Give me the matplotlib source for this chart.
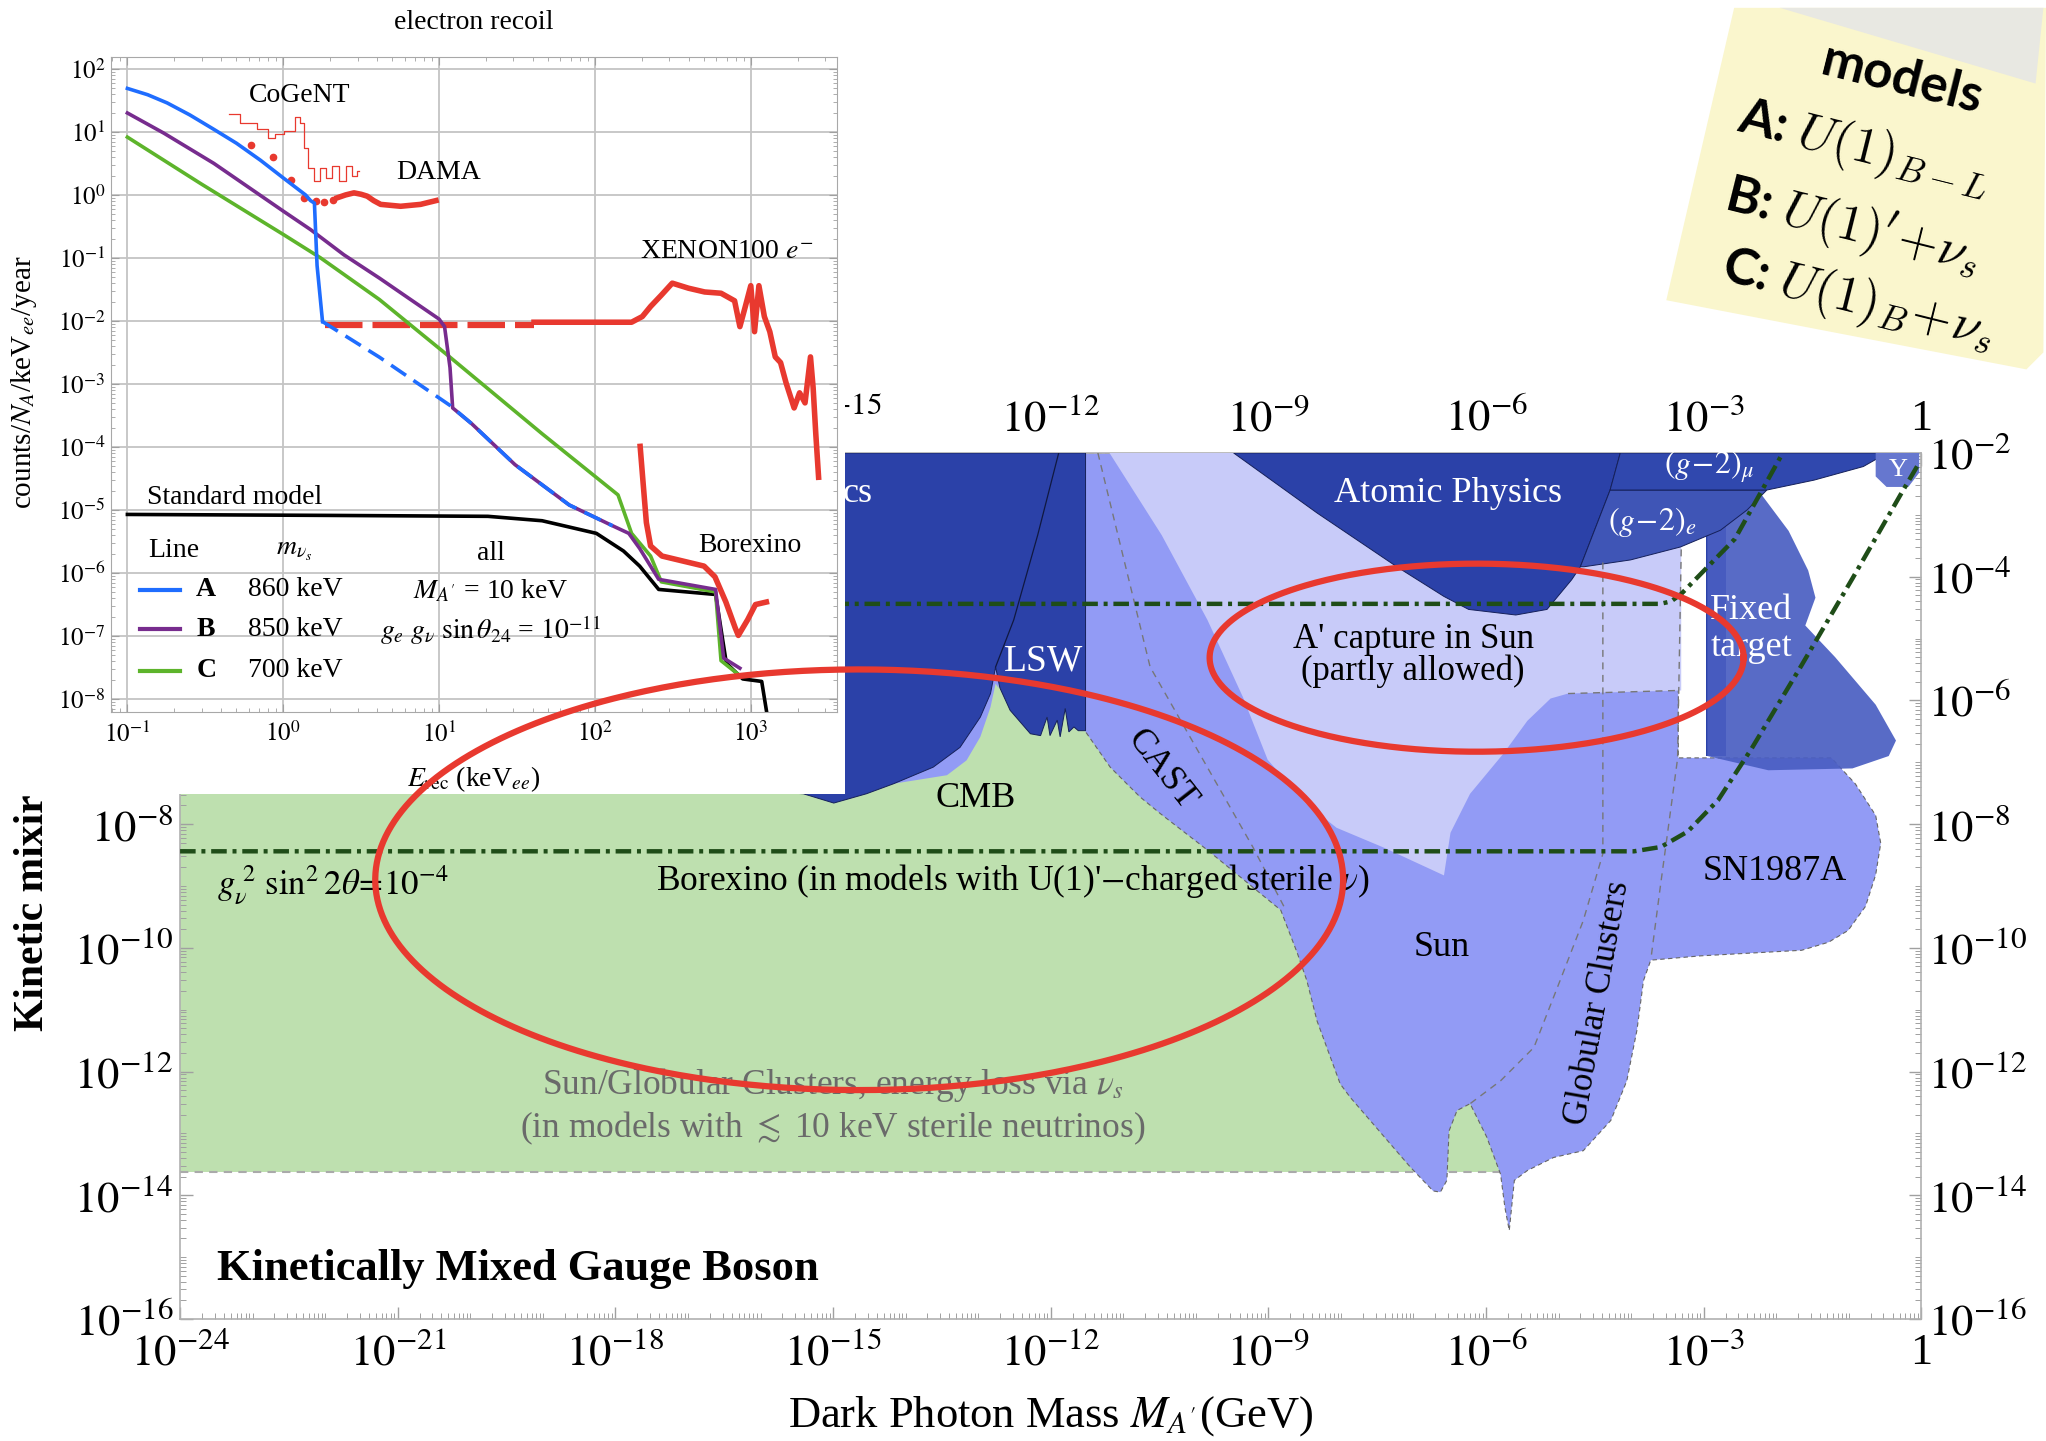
import numpy as np
import matplotlib
matplotlib.use("Agg")
import matplotlib.pyplot as plt
from matplotlib.patches import Polygon, Rectangle
from matplotlib.ticker import FixedLocator, FixedFormatter, LogLocator, NullFormatter

plt.rcParams["font.family"] = "serif"
plt.rcParams["font.serif"] = ["Liberation Serif", "DejaVu Serif"]
plt.rcParams["mathtext.fontset"] = "stix"

# ---------------- main panel: regions in (log10 M_A'/GeV, log10 chi) ----------------
green_lx = [-24.0, -5.81, -5.81, -24.0]
green_ly = [-13.63, -13.63, -2.0, -2.0]

# CAST + Sun + Globular Clusters + SN1987A
astro_lx = [-11.53, -11.53, -11.18, -10.95, -10.77, -10.49, -9.84, -8.83, -8.60, -8.47, -8.33,
            -8.01, -7.87, -7.04, -6.73, -6.63, -6.54, -6.51, -6.40, -6.22, -5.99, -5.80, -5.74,
            -5.68, -5.61, -5.43, -5.07, -4.66, -4.28, -4.06, -3.92, -3.83, -3.73, -3.04, -1.65,
            -1.28, -1.01, -0.77, -0.63, -0.56, -0.63, -0.91, -1.24, -3.35, -3.35]
astro_ly = [-2.00, -6.49, -7.08, -7.35, -7.56, -7.83, -8.42, -9.39, -10.09, -10.53, -11.18,
            -12.20, -12.42, -13.55, -13.93, -13.95, -13.76, -12.96, -12.63, -12.52, -13.06, -13.66,
            -14.20, -14.57, -13.76, -13.60, -13.39, -13.28, -12.79, -12.15, -11.33, -10.53, -10.20,
            -10.13, -10.04, -9.91, -9.72, -9.33, -8.82, -8.31, -7.86, -7.35, -6.93, -6.93, -2.00]

# A' capture in Sun (partly allowed)
capture_lx = [-11.19, -10.47, -9.84, -9.35, -9.01, -8.49, -8.06, -7.41, -6.58, -6.49, -6.22,
              -5.76, -5.43, -5.11, -4.87, -3.31, -3.31]
capture_ly = [-2.0, -3.33, -4.70, -5.95, -6.96, -7.66, -8.06, -8.38, -8.83, -8.14, -7.51,
              -6.86, -6.33, -5.97, -5.89, -5.84, -2.0]

# low mass bounds + LSW
lsw_lx = [-15.69, -15.69, -15.41, -14.99, -14.54, -14.17, -13.62, -13.25, -12.97, -12.83, -12.76,
          -12.70, -12.56, -12.28, -12.14, -12.05, -12.01, -11.91, -11.87, -11.80, -11.75, -11.68,
          -11.62, -11.52, -11.52]
lsw_ly = [-2.0, -7.49, -7.51, -7.66, -7.51, -7.35, -7.08, -6.76, -6.27, -5.89, -5.46,
          -5.80, -6.16, -6.54, -6.57, -6.27, -6.57, -6.32, -6.59, -6.13, -6.51, -6.43,
          -6.49, -6.49, -2.0]
lsw_sep_lx = [-12.76, -12.51, -12.18, -11.89]
lsw_sep_ly = [-5.46, -4.70, -3.33, -2.0]

cmb_lx = [-14.18, -13.43, -13.16, -12.97, -12.83, -12.76, -12.72, -12.63, -14.18]
cmb_ly = [-7.35, -7.21, -6.97, -6.59, -6.11, -5.73, -5.80, -4.81, -6.50]

atomic_lx = [-9.48, -8.33, -7.23, -6.58, -6.24, -5.59, -5.16, -4.82, -4.70, -4.29, -4.15]
atomic_ly = [-2.0, -2.97, -3.84, -4.32, -4.53, -4.62, -4.53, -4.05, -3.84, -2.60, -2.0]

g2e_lx = [-4.70, -4.65, -4.01, -3.32, -2.77, -2.40, -2.13, -4.29]
g2e_ly = [-3.84, -3.84, -3.73, -3.52, -3.25, -2.92, -2.60, -2.60]

g2mu_lx = [-4.15, -4.29, -2.13, -1.48, -0.80, -0.56, -0.54]
g2mu_ly = [-2.0, -2.60, -2.60, -2.44, -2.22, -2.06, -2.0]

fixed_lx = [-2.97, -2.69, -2.69, -2.97]
fixed_ly = [-2.6, -2.6, -6.90, -6.90]
fixed_tail_lx = [-2.95, -2.20, -1.83, -1.56, -1.46, -1.60, -1.19, -0.63, -0.35, -0.45, -0.95, -2.11, -2.95]
fixed_tail_ly = [-2.70, -2.68, -3.26, -3.90, -4.34, -4.79, -5.30, -6.07, -6.65, -6.90, -7.10, -7.13, -6.90]

ups_lx = [-0.63, -0.63, -0.48, -0.18, -0.03, -0.03]
ups_ly = [-2.0, -2.38, -2.55, -2.55, -2.32, -2.0]

# region borders (dashed)
cast_dash_lx = [-11.35, -10.63, -9.21, -8.76]
cast_dash_ly = [-2.0, -5.46, -8.38, -9.39]
gc_dash_lx = [-4.39, -4.39, -4.66, -4.98, -5.34, -5.80, -6.22]
gc_dash_ly = [-3.77, -8.48, -9.56, -10.53, -11.61, -12.15, -12.52]
sn_dash_lx = [-3.31, -3.36, -3.60, -3.73]
sn_dash_ly = [-3.56, -6.94, -9.03, -10.20]
sun_top_lx = [-4.87, -3.35]
sun_top_ly = [-5.89, -5.84]

# Borexino, g_nu^2 sin^2 2theta = 1e-4 (two model lines)
bx_hi_lx = [-24.0, -3.60, -3.45, -3.31, -2.57, -1.91]
bx_hi_ly = [-4.44, -4.44, -4.40, -4.28, -3.39, -2.0]
bx_lo_lx = [-24.0, -3.96, -3.59, -3.22, -2.80, -2.34, -1.65, -0.95, -0.26, -0.05]
bx_lo_ly = [-8.44, -8.44, -8.37, -8.12, -7.61, -6.78, -5.43, -4.03, -2.62, -2.20]

# ---------------- inset: (log10 E_rec/keV, log10 counts) ----------------
lineA_lx = [-1.0, -0.87, -0.745, -0.6, -0.445, -0.3, -0.146, 0.0, 0.143, 0.175, 0.20, 0.217, 0.252]
lineA_ly = [1.69, 1.59, 1.46, 1.27, 1.04, 0.82, 0.55, 0.27, 0.0, -0.09, -0.13, -1.12, -2.01]
lineA_dash_lx = [0.252, 0.617, 1.07, 1.209, 1.487, 1.835, 2.113]
lineA_dash_ly = [-2.01, -2.575, -3.34, -3.63, -4.28, -4.92, -5.25]
lineB_lx = [-1.0, -0.766, -0.445, 0.0, 0.175, 0.389, 0.617, 0.817, 1.0, 1.035, 1.07, 1.087, 1.209,
            1.487, 1.835, 2.113, 2.217, 2.287, 2.409, 2.774, 2.826, 2.930]
lineB_ly = [1.30, 0.98, 0.50, -0.257, -0.55, -0.95, -1.32, -1.66, -1.97, -2.09, -2.74, -3.38, -3.63,
            -4.28, -4.92, -5.25, -5.37, -5.61, -6.10, -6.26, -7.35, -7.51]
lineC_lx = [-1.0, -0.53, 0.0, 0.24, 0.617, 1.07, 1.661, 2.148, 2.235, 2.357, 2.426, 2.774,
            2.809, 2.913]
lineC_ly = [0.917, 0.18, -0.627, -1.0, -1.66, -2.575, -3.79, -4.76, -5.37, -5.73, -6.14, -6.30,
            -7.39, -7.595]
sm_lx = [-1.0, 0.270, 1.313, 1.661, 2.009, 2.183, 2.287, 2.409, 2.774, 2.843, 2.948, 3.070, 3.104,
         3.12]
sm_ly = [-5.07, -5.085, -5.10, -5.17, -5.37, -5.65, -5.89, -6.26, -6.34, -7.43, -7.68, -7.72,
         -8.24, -8.40]

cogent_lx = [-0.348, -0.220, -0.124, -0.070, -0.039, 0.047, 0.096, 0.122, 0.143, 0.175, 0.219,
             0.250, 0.293, 0.336, 0.379, 0.421, 0.464, 0.486]
cogent_ly = [1.277, 1.145, 1.039, 0.906, 0.959, 1.012, 1.234, 1.145, 0.748, 0.431, 0.219,
             0.431, 0.271, 0.457, 0.219, 0.457, 0.298, 0.377]
cogent_pts_lx = [-0.209, -0.064, 0.047]
cogent_pts_ly = [0.791, 0.605, 0.244]
dama_pts_lx = [0.132, 0.208, 0.261, 0.321]
dama_pts_ly = [-0.045, -0.10, -0.114, -0.087]
dama_lx = [0.347, 0.40, 0.454, 0.50, 0.539, 0.58, 0.625, 0.753, 0.881, 0.93, 0.98]
dama_ly = [-0.045, 0.0, 0.033, 0.01, -0.02, -0.09, -0.15, -0.18, -0.15, -0.12, -0.09]

xenon_dash_lx = [0.27, 1.609]
xenon_dash_ly = [-2.06, -2.06]
xenon_lx = [1.609, 2.235, 2.304, 2.357, 2.426, 2.496, 2.600, 2.704, 2.809, 2.896, 2.930, 2.965,
            3.000, 3.024, 3.052, 3.087, 3.122, 3.157, 3.191, 3.226, 3.278, 3.313, 3.348, 3.383,
            3.400, 3.417, 3.435]
xenon_ly = [-2.02, -2.02, -1.93, -1.77, -1.59, -1.40, -1.48, -1.54, -1.56, -1.68, -2.09, -1.77,
            -1.44, -2.17, -1.44, -1.93, -2.17, -2.57, -2.66, -2.98, -3.38, -3.14, -3.30, -2.57,
            -3.06, -3.79, -4.48]
borex_lx = [2.29, 2.31, 2.33, 2.357, 2.43, 2.70, 2.77, 2.84, 2.90, 2.92, 2.98, 3.03, 3.10]
borex_ly = [-3.99, -4.60, -5.20, -5.57, -5.73, -5.89, -6.06, -6.46, -6.87, -6.99, -6.74, -6.50, -6.46]

# ---------------- colours ----------------
C_DARK = "#2B41A8"
C_MED = "#929BF5"
C_LAV = "#C8CBF9"
C_GREEN = "#BEE0AF"
C_RED = "#E8392F"
C_DD = "#1F4D18"


def p10(v):
    return 10.0 ** np.asarray(v)


fig = plt.figure(figsize=(20.46, 14.41), dpi=100)

# ====================== main axes ======================
ax = fig.add_axes([0.08801, 0.08469, 0.85108, 0.60100], zorder=1)
ax.set_xscale("log")
ax.set_yscale("log")
ax.set_xlim(1e-24, 1)
ax.set_ylim(1e-16, 1e-2)

ax.fill(p10(green_lx), p10(green_ly), color=C_GREEN, lw=0, zorder=1)
ax.plot(p10(green_lx[:2]), p10(green_ly[:2]), color="#aaaaaa", lw=1.5, ls=(0, (4, 3)), zorder=1.1)
ax.fill(p10(astro_lx), p10(astro_ly), facecolor=C_MED, edgecolor="#666666", lw=0.8,
        ls=(0, (4, 3)), zorder=2)
ax.fill(p10(capture_lx), p10(capture_ly), facecolor=C_LAV, edgecolor="none", zorder=3)
ax.fill(p10(cmb_lx), p10(cmb_ly), facecolor=C_MED, edgecolor="none", zorder=3)
ax.fill(p10(lsw_lx), p10(lsw_ly), facecolor=C_DARK, edgecolor="#15205a", lw=0.7, zorder=4)
ax.plot(p10(lsw_sep_lx), p10(lsw_sep_ly), color="#101840", lw=0.9, zorder=4.1)
ax.fill(p10(atomic_lx), p10(atomic_ly), facecolor=C_DARK, edgecolor="#15205a", lw=0.7, zorder=4)
ax.fill(p10(fixed_lx), p10(fixed_ly), facecolor=C_DARK, edgecolor="none", zorder=4)
ax.fill(p10(fixed_tail_lx), p10(fixed_tail_ly), facecolor="#4A5EC2", edgecolor="none",
        alpha=0.92, zorder=4.2)
ax.fill(p10(g2e_lx), p10(g2e_ly), facecolor="#3F55B6", edgecolor="#15205a", lw=0.7, zorder=4.3)
ax.fill(p10(g2mu_lx), p10(g2mu_ly), facecolor="#3048AE", edgecolor="#15205a", lw=0.7, zorder=4.3)
ax.fill(p10(ups_lx), p10(ups_ly), facecolor="#6677CF", edgecolor="none", zorder=4.3)

for bx, by in [(cast_dash_lx, cast_dash_ly), (gc_dash_lx, gc_dash_ly),
               (sn_dash_lx, sn_dash_ly), (sun_top_lx, sun_top_ly)]:
    ax.plot(p10(bx), p10(by), color="#777777", lw=1.0, ls=(0, (5, 4)), zorder=4.5)

for bx, by in [(bx_hi_lx, bx_hi_ly), (bx_lo_lx, bx_lo_ly)]:
    ax.plot(p10(bx), p10(by), color=C_DD, lw=3.2, ls=(0, (3.5, 1.3, 0.9, 1.3)), zorder=5)

xmaj = [10.0 ** e for e in range(-24, 1, 3)]
xlab = ["$10^{%d}$" % e for e in range(-24, 0, 3)] + ["1"]
ymaj = [10.0 ** e for e in range(-16, -1, 2)]
ylab = ["$10^{%d}$" % e for e in range(-16, -1, 2)]
ax.xaxis.set_major_locator(FixedLocator(xmaj))
ax.xaxis.set_major_formatter(FixedFormatter(xlab))
ax.yaxis.set_major_locator(FixedLocator(ymaj))
ax.yaxis.set_major_formatter(FixedFormatter(ylab))
ax.xaxis.set_minor_locator(FixedLocator([m * 10.0 ** e for e in range(-24, 0) for m in range(1, 10)]))
ax.yaxis.set_minor_locator(FixedLocator([m * 10.0 ** e for e in range(-16, -2) for m in range(1, 10)]))
ax.xaxis.set_minor_formatter(NullFormatter())
ax.yaxis.set_minor_formatter(NullFormatter())
ax.tick_params(which="both", direction="in", top=True, right=True, labeltop=True,
               labelright=True, color="#a0a0a0", labelsize=32)
ax.tick_params(which="major", length=9, width=1.0)
ax.tick_params(which="minor", length=4.5, width=0.7)
ax.tick_params(axis="x", pad=10)
ax.tick_params(axis="y", pad=5)
for s in ax.spines.values():
    s.set_color("#b0b0b0")
    s.set_linewidth(1.2)

# labels that sit entirely under the pasted inset are not shown
for tk in ax.xaxis.get_major_ticks()[:3]:
    tk.label2.set_visible(False)
for tk in ax.yaxis.get_major_ticks()[-3:]:
    tk.label1.set_visible(False)

ax.set_xlabel("Dark Photon Mass $M_{A'}$(GeV)", fontsize=32, va="center")
ax.xaxis.set_label_coords(0.4998, -0.1123)

T = ax.transAxes
ax.text(0.3979, 0.9533, "cs", color="white", fontsize=26, ha="right", va="center",
        transform=T, zorder=6)
ax.text(0.7284, 0.9533, "Atomic Physics", color="white", fontsize=26, ha="center", va="center",
        transform=T, zorder=6)
ax.text(0.8782, 0.9834, r"$(g\!-\!2)_{\mu}$", color="white", fontsize=23, ha="center",
        va="center", transform=T, zorder=6)
ax.text(0.8453, 0.9201, r"$(g\!-\!2)_{e}$", color="white", fontsize=23, ha="center",
        va="center", transform=T, zorder=6)
ax.text(0.9869, 0.9804, "Y", color="white", fontsize=19, ha="center", va="center",
        transform=T, zorder=6)
ax.text(0.4961, 0.7589, "LSW", color="white", fontsize=27, ha="center", va="center",
        transform=T, zorder=6)
ax.text(0.4571, 0.6006, "CMB", color="black", fontsize=26, ha="center", va="center",
        transform=T, zorder=6)
ax.text(0.5635, 0.6338, "CAST", color="black", fontsize=26, ha="center", va="center",
        rotation=-52, transform=T, zorder=6)
ax.text(0.7081, 0.7664, "A' capture in Sun\n(partly allowed)", color="black", fontsize=25,
        ha="center", va="center", linespacing=0.95, transform=T, zorder=6)
ax.text(0.9022, 0.7965, "Fixed\ntarget", color="white", fontsize=26, ha="center", va="center",
        linespacing=1.15, transform=T, zorder=6)
ax.text(0.9157, 0.5162, "SN1987A", color="black", fontsize=26, ha="center", va="center",
        transform=T, zorder=6)
ax.text(0.7246, 0.4288, "Sun", color="black", fontsize=26, ha="center", va="center",
        transform=T, zorder=6)
ax.text(0.8145, 0.3655, "Globular Clusters", color="black", fontsize=25, ha="center",
        va="center", rotation=80, transform=T, zorder=6)
ax.text(0.4781, 0.5057, "Borexino (in models with U(1)'$-$charged sterile $\\nu$)",
        color="black", fontsize=25.5, ha="center", va="center", transform=T, zorder=6)
ax.text(0.0877, 0.5011, r"$g_{\nu}^{\ 2}\ \sin^{2}2\theta\!=\!10^{-4}$", color="black",
        fontsize=25, ha="center", va="center", transform=T, zorder=6)
ax.text(0.3747, 0.2449, "Sun/Globular Clusters, energy loss via $\\nu_s$\n"
        "(in models with $\\lesssim$ 10 keV sterile neutrinos)", color="#6a6a6a",
        fontsize=25.5, ha="center", va="center", linespacing=1.2, transform=T, zorder=6)
ax.text(0.0210, 0.0580, "Kinetically Mixed Gauge Boson", color="black", fontsize=32,
        fontweight="bold", ha="left", va="center", transform=T, zorder=6)

fig.text(0.01594, 0.28442, "Kinetic mixir", rotation=90, ha="center", va="bottom",
         fontsize=30, fontweight="bold", zorder=1.5)

# white backing of the pasted inset
fig.add_artist(Rectangle((0.0, 0.4493), 0.41295, 0.5507, transform=fig.transFigure,
                         facecolor="white", edgecolor="none", zorder=2))

# ====================== inset ======================
ins = fig.add_axes([0.05427, 0.50607, 0.35504, 0.45426], zorder=3)
ins.set_xscale("log")
ins.set_yscale("log")
ins.set_xlim(10 ** -1.105, 10 ** 3.556)
ins.set_ylim(10 ** -8.201, 10 ** 2.186)
ins.set_xticks([10.0 ** e for e in range(-1, 4)])
ins.set_xticklabels(["$10^{%d}$" % e for e in range(-1, 4)])
ins.set_yticks([10.0 ** e for e in range(-8, 3)])
ins.set_yticklabels(["$10^{%d}$" % e for e in range(-8, 3)])
ins.xaxis.set_minor_locator(LogLocator(base=10, subs=np.arange(2, 10), numticks=30))
ins.yaxis.set_minor_locator(LogLocator(base=10, subs=np.arange(2, 10), numticks=30))
ins.xaxis.set_minor_formatter(NullFormatter())
ins.yaxis.set_minor_formatter(NullFormatter())
ins.grid(True, which="major", color="#c4c4c4", lw=1.3)
ins.tick_params(which="both", direction="in", top=True, right=True, color="#a0a0a0",
                labelsize=18)
ins.tick_params(axis="x", pad=7)
ins.tick_params(axis="y", pad=4)
ins.tick_params(which="major", length=6)
ins.tick_params(which="minor", length=3)
for s in ins.spines.values():
    s.set_color("#a8a8a8")

ins.plot(p10(cogent_lx), p10(cogent_ly), color=C_RED, lw=0.9, drawstyle="steps-mid")
ins.plot(p10(cogent_pts_lx), p10(cogent_pts_ly), "o", color=C_RED, ms=4.5)
ins.plot(p10(dama_pts_lx), p10(dama_pts_ly), "o", color=C_RED, ms=4.5)
ins.plot(p10(dama_lx), p10(dama_ly), color=C_RED, lw=4)
ins.plot(p10(xenon_dash_lx), p10(xenon_dash_ly), color=C_RED, lw=4.5, ls=(0, (6, 1.6)))
ins.plot(p10(xenon_lx), p10(xenon_ly), color=C_RED, lw=4)
ins.plot(p10(borex_lx), p10(borex_ly), color=C_RED, lw=4)

ins.plot(p10(sm_lx), p10(sm_ly), color="black", lw=2.6)
ins.plot(p10(lineC_lx), p10(lineC_ly), color="#5DB42B", lw=2.6)
ins.plot(p10(lineB_lx), p10(lineB_ly), color="#772C8E", lw=2.6)
ins.plot(p10(lineA_lx), p10(lineA_ly), color="#1F6DFF", lw=2.6)
ins.plot(p10(lineA_dash_lx), p10(lineA_dash_ly), color="#1F6DFF", lw=2.6, ls=(0, (5, 2.5)))

IT = ins.transAxes
ins.text(0.2603, 0.9417, "CoGeNT", fontsize=20, ha="center", va="center", transform=IT)
ins.text(0.4506, 0.8241, "DAMA", fontsize=20, ha="center", va="center", transform=IT)
ins.text(0.8477, 0.7024, "XENON100 $e^{-}$", fontsize=20, ha="center", va="center", transform=IT)
ins.text(0.1708, 0.3278, "Standard model", fontsize=20, ha="center", va="center", transform=IT)
ins.text(0.8800, 0.2540, "Borexino", fontsize=20, ha="center", va="center", transform=IT)
ins.text(0.0860, 0.2459, "Line", fontsize=20, ha="center", va="center", transform=IT)
ins.text(0.2513, 0.2459, r"$m_{\nu_s}$", fontsize=20, ha="center", va="center", transform=IT)
ins.text(0.5225, 0.2419, "all", fontsize=20, ha="center", va="center", transform=IT)
for col, lab, mass, fy in [("#1F6DFF", "A", "860 keV", 0.1860),
                           ("#772C8E", "B", "850 keV", 0.1262),
                           ("#5DB42B", "C", "700 keV", 0.0624)]:
    ins.plot([0.0393, 0.0950], [fy, fy], color=col, lw=3, transform=IT)
    ins.text(0.1310, fy, lab, fontsize=20, fontweight="bold", ha="center", va="center",
             transform=IT)
    ins.text(0.2531, fy, mass, fontsize=20, ha="center", va="center", transform=IT)
ins.text(0.5225, 0.1840, "$M_{A'}$ = 10 keV", fontsize=20, ha="center", va="center", transform=IT)
ins.text(0.5225, 0.1242, r"$g_e\ g_{\nu}\ \sin\theta_{24}$ = $10^{-11}$", fontsize=20,
         ha="center", va="center", transform=IT)

ins.set_ylabel("counts/$N_A$/keV$_{ee}$/year", fontsize=21, va="center")
ins.yaxis.set_label_coords(-0.1205, 0.503)
ins.set_xlabel("$E_{\\rm rec}$ (keV$_{ee}$)", fontsize=20, va="center")
ins.xaxis.set_label_coords(0.499, -0.103)
fig.text(0.2315, 0.9846, "electron recoil", fontsize=20, ha="center", va="center", zorder=3.5)

# ====================== red highlight ellipses (on top of everything) ======================
ov = fig.add_axes([0.08801, 0.08469, 0.85108, 0.60100], zorder=4)
ov.set_xscale("log")
ov.set_yscale("log")
ov.set_xlim(1e-24, 1)
ov.set_ylim(1e-16, 1e-2)
ov.axis("off")
t = np.linspace(0, 2 * np.pi, 500)
for cx, cy, a, b in [(-14.64, -8.90, 6.67, 3.40), (-6.13, -5.31, 3.68, 1.52)]:
    ov.plot(10 ** (cx + a * np.cos(t)), 10 ** (cy + b * np.sin(t)), color=C_RED, lw=4.5,
            clip_on=False)

# ====================== sticky note ======================
def fxy(px, py):
    return (px / 1568.0, 1.0 - py / 1104.0)


note = Polygon([fxy(1329, 6), fxy(1568, 6), fxy(1566, 270), fxy(1553, 283), fxy(1277, 230)],
               closed=True, transform=fig.transFigure, facecolor="#FAF6CD", edgecolor="none",
               zorder=5)
fig.add_artist(note)
fold = Polygon([fxy(1364, 6), fxy(1566, 6), fxy(1560, 64)], closed=True,
               transform=fig.transFigure, facecolor="#E8E8E2", edgecolor="none", zorder=5.1)
fig.add_artist(fold)
for (px, py), txt in [((1458, 61), "models"),
                      ((1428, 114), r"A: $U(1)_{B-L}$"),
                      ((1420, 174), r"B: $U(1)^{\prime}\!+\!\nu_s$"),
                      ((1424, 230), r"C: $U(1)_{B}\!+\!\nu_s$")]:
    x0, y0 = fxy(px, py)
    fig.text(x0, y0, txt, fontsize=37, family="Lato", fontweight="bold",
             math_fontfamily="cm", ha="center", va="center", rotation=-14,
             rotation_mode="anchor", zorder=6)

fig.savefig("out.png", dpi=100)
